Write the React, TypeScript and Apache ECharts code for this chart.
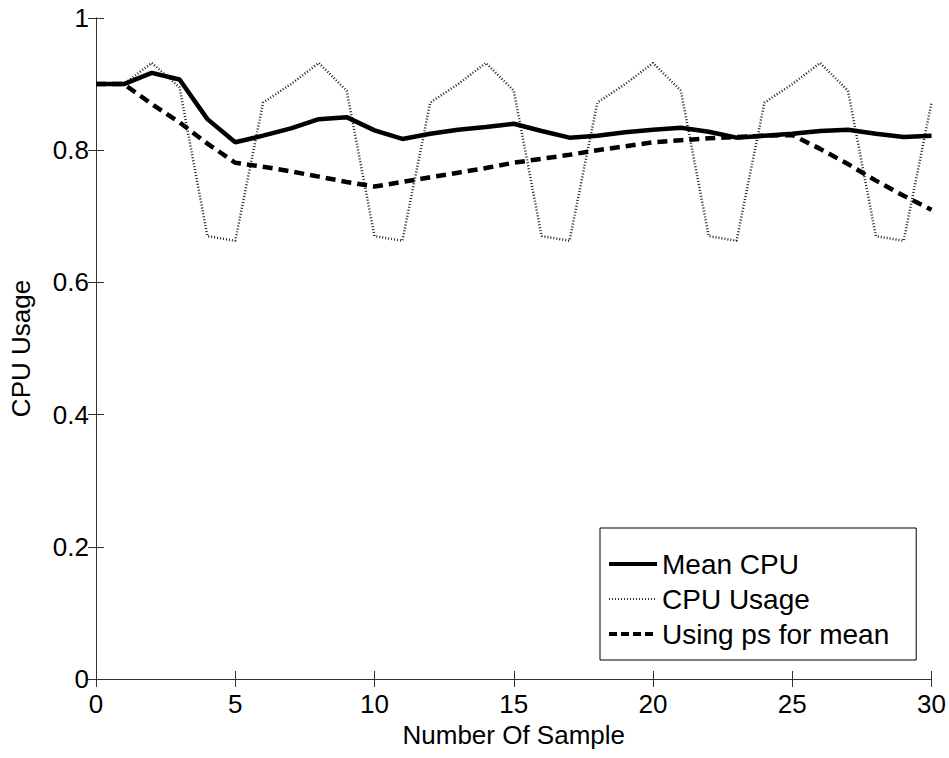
import React, { useEffect, useRef } from "react";
import * as echarts from "echarts";

const samples = [0,1,2,3,4,5,6,7,8,9,10,11,12,13,14,15,16,17,18,19,20,21,22,23,24,25,26,27,28,29,30];
const meanCpu = [0.9,0.9,0.917,0.907,0.847,0.812,0.822,0.833,0.847,0.85,0.83,0.817,0.825,0.831,0.835,0.84,0.829,0.819,0.822,0.827,0.831,0.834,0.828,0.819,0.822,0.825,0.829,0.831,0.825,0.82,0.822];
const cpuUsage = [0.9,0.9,0.932,0.895,0.67,0.663,0.872,0.9,0.932,0.89,0.67,0.663,0.872,0.9,0.932,0.89,0.67,0.663,0.872,0.9,0.932,0.89,0.67,0.663,0.872,0.9,0.932,0.89,0.67,0.663,0.872];
const psMean = [0.9,0.9,0.87,0.842,0.81,0.781,0.775,0.768,0.76,0.752,0.745,0.752,0.759,0.766,0.773,0.781,0.787,0.793,0.8,0.806,0.812,0.815,0.818,0.82,0.822,0.823,0.802,0.779,0.754,0.731,0.71];
const seriesNames = ["Mean CPU", "CPU Usage", "Using ps for mean"];

const FONT = "'Liberation Sans', Arial, Helvetica, sans-serif";
const AX = "#333";

export default function App() {
  const ref = useRef<HTMLDivElement>(null);
  useEffect(() => {
    document.body.style.margin = "0";
    const chart = echarts.init(ref.current!, null, { renderer: "svg" });
    const pair = (ys: number[]) => samples.map((x, i) => [x, ys[i]]);
    chart.setOption({
      animation: false,
      backgroundColor: "#fff",
      textStyle: { fontFamily: FONT },
      grid: { left: 96, right: 17, top: 18, bottom: 79 },
      legend: {
        orient: "vertical",
        left: 600,
        top: 528,
        data: [
          { name: seriesNames[0], lineStyle: { width: 4, color: "#000", type: "solid" } },
          { name: seriesNames[1], lineStyle: { width: 2, color: "#333", type: [1, 2] } },
          { name: seriesNames[2], lineStyle: { width: 4, color: "#000", type: [8, 4] } },
        ],
        itemWidth: 48,
        itemHeight: 14,
        itemGap: 7,
        itemTextGap: 6,
        padding: [22, 27, 12, 7],
        borderColor: "#000",
        borderWidth: 1,
        backgroundColor: "#fff",
        itemStyle: { opacity: 0, borderWidth: 0 },
        textStyle: { fontSize: 28, color: "#000", fontFamily: FONT, lineHeight: 28 },
      },
      xAxis: [
        {
          type: "value", min: 0, max: 30, interval: 5,
          name: "Number Of Sample", nameLocation: "middle", nameGap: 42,
          nameTextStyle: { fontSize: 26, color: "#000", fontFamily: FONT },
          axisLine: { show: true, lineStyle: { color: AX, width: 1 } },
          axisTick: { inside: true, length: 8, lineStyle: { color: AX } },
          axisLabel: { fontSize: 26, color: "#000", margin: 12, fontFamily: FONT },
          splitLine: { show: false },
        },
        {
          type: "value", min: 0, max: 30, interval: 5, position: "top",
          axisLine: { show: true, lineStyle: { color: AX, width: 1 } },
          axisTick: { inside: true, length: 8, lineStyle: { color: AX } },
          axisLabel: { show: false },
          splitLine: { show: false },
        },
      ],
      yAxis: [
        {
          type: "value", min: 0, max: 1, interval: 0.2,
          name: "CPU Usage", nameLocation: "middle", nameGap: 62,
          nameTextStyle: { fontSize: 26, color: "#000", fontFamily: FONT },
          axisLine: { show: true, lineStyle: { color: AX, width: 1 } },
          axisTick: { inside: true, length: 8, lineStyle: { color: AX } },
          axisLabel: { fontSize: 26, color: "#000", margin: 7, fontFamily: FONT },
          splitLine: { show: false },
        },
        {
          type: "value", min: 0, max: 1, interval: 0.2, position: "right",
          axisLine: { show: true, lineStyle: { color: AX, width: 1 } },
          axisTick: { inside: true, length: 8, lineStyle: { color: AX } },
          axisLabel: { show: false },
          splitLine: { show: false },
        },
      ],
      series: [
        {
          name: seriesNames[1], type: "line", data: pair(cpuUsage), symbol: "none",
          lineStyle: { color: "#222", width: 2.5, type: [1, 2] }, itemStyle: { color: "#222" }, z: 2,
        },
        {
          name: seriesNames[0], type: "line", data: pair(meanCpu), symbol: "none",
          lineStyle: { color: "#000", width: 4.5, type: "solid" }, itemStyle: { color: "#000" }, z: 3,
        },
        {
          name: seriesNames[2], type: "line", data: pair(psMean), symbol: "none",
          lineStyle: { color: "#000", width: 4.5, type: [10, 6] }, itemStyle: { color: "#000" }, z: 4,
        },
      ],
    });
    return () => chart.dispose();
  }, []);
  return <div ref={ref} style={{ width: 949, height: 758 }} />;
}
